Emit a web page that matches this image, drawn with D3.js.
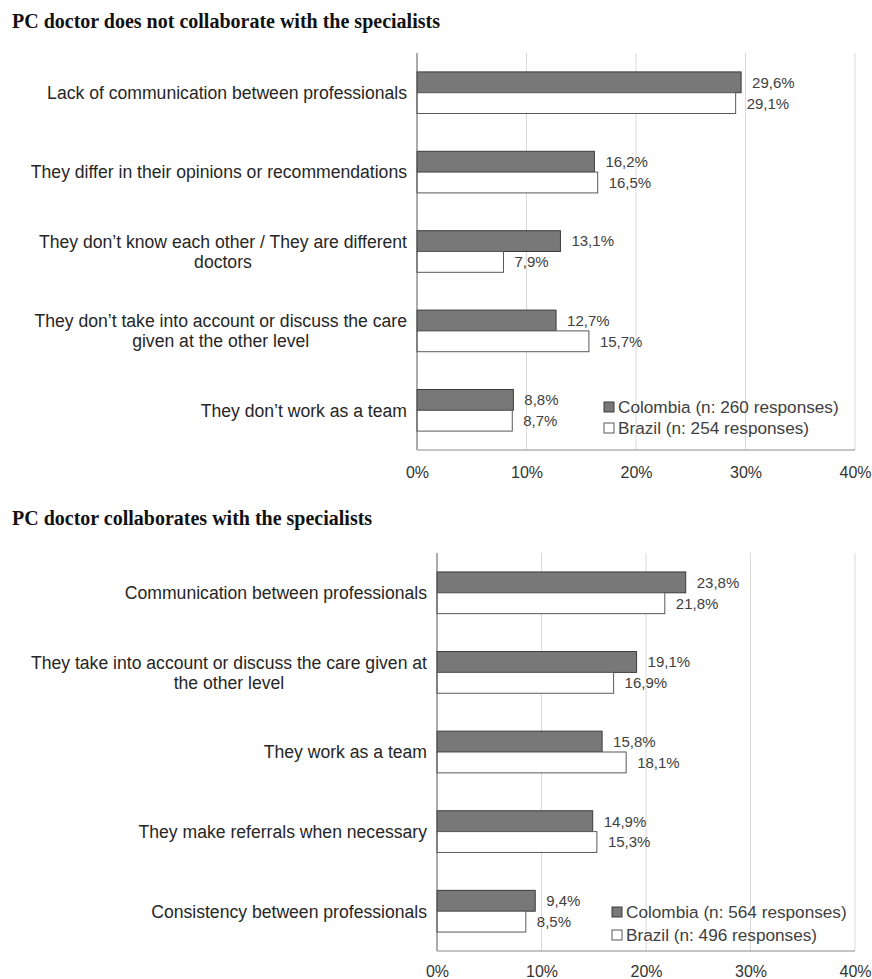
<!DOCTYPE html>
<html>
<head>
<meta charset="utf-8">
<script src="https://cdn.jsdelivr.net/npm/d3@7"></script>
<style>
  html, body { margin: 0; padding: 0; background: #fff; }
  svg { display: block; }
</style>
</head>
<body>
<svg id="chart" width="872" height="979"></svg>
<script>
// ---------- DATA ----------
const title1 = "PC doctor does not collaborate with the specialists";
const categories1 = [
  "Lack of communication between professionals",
  "They differ in their opinions or recommendations",
  "They don’t know each other / They are different\ndoctors",
  "They don’t take into account or discuss the care\ngiven at the other level",
  "They don’t work as a team"
];
const colombia1 = [29.6, 16.2, 13.1, 12.7, 8.8];
const brazil1   = [29.1, 16.5, 7.9, 15.7, 8.7];
const legend1   = ["Colombia (n: 260 responses)", "Brazil (n: 254 responses)"];

const title2 = "PC doctor collaborates with the specialists";
const categories2 = [
  "Communication between professionals",
  "They take into account or discuss the care given at\nthe other level",
  "They work as a team",
  "They make referrals when necessary",
  "Consistency between professionals"
];
const colombia2 = [23.8, 19.1, 15.8, 14.9, 9.4];
const brazil2   = [21.8, 16.9, 18.1, 15.3, 8.5];
const legend2   = ["Colombia (n: 564 responses)", "Brazil (n: 496 responses)"];

const xTicks = [0, 10, 20, 30, 40];
const fmt = v => String(v.toFixed(1)).replace(".", ",") + "%";

// ---------- DRAW ----------
const svg = d3.select("#chart");

function drawChart(cfg) {
  const g = svg.append("g");
  const x = d3.scaleLinear().domain([0, 40]).range([cfg.x0, cfg.x1]);
  const y = d3.scaleBand().domain(cfg.categories).range([cfg.top, cfg.bottom]);
  const barH = y.bandwidth() * 0.262;

  // title
  g.append("text")
    .attr("x", 12).attr("y", cfg.titleY)
    .attr("font-family", "'Liberation Serif', 'Times New Roman', serif")
    .attr("font-weight", "bold").attr("font-size", 20)
    .attr("fill", "#111")
    .text(cfg.title);

  // gridlines
  g.selectAll(".grid").data(xTicks.filter(t => t > 0)).enter().append("line")
    .attr("x1", d => x(d)).attr("x2", d => x(d))
    .attr("y1", cfg.top).attr("y2", cfg.bottom)
    .attr("stroke", "#d9d9d9").attr("stroke-width", 1);

  // bars
  const rows = cfg.categories.map((c, i) => ({ c, col: cfg.colombia[i], bra: cfg.brazil[i] }));
  const center = d => y(d.c) + y.bandwidth() / 2;

  g.selectAll(".barC").data(rows).enter().append("rect")
    .attr("x", x(0)).attr("y", d => center(d) - barH)
    .attr("width", d => x(d.col) - x(0)).attr("height", barH)
    .attr("fill", "#787878").attr("stroke", "#3c3c3c").attr("stroke-width", 1);
  g.selectAll(".barB").data(rows).enter().append("rect")
    .attr("x", x(0)).attr("y", d => center(d))
    .attr("width", d => x(d.bra) - x(0)).attr("height", barH)
    .attr("fill", "#ffffff").attr("stroke", "#595959").attr("stroke-width", 1);

  // value labels
  const vfont = "'Liberation Sans', Arial, sans-serif";
  g.selectAll(".valC").data(rows).enter().append("text")
    .attr("x", d => x(d.col) + 11).attr("y", d => center(d) - barH / 2)
    .attr("dy", "0.36em")
    .attr("font-family", vfont).attr("font-size", 15).attr("fill", "#404040")
    .text(d => fmt(d.col));
  g.selectAll(".valB").data(rows).enter().append("text")
    .attr("x", d => x(d.bra) + 11).attr("y", d => center(d) + barH / 2)
    .attr("dy", "0.36em")
    .attr("font-family", vfont).attr("font-size", 15).attr("fill", "#404040")
    .text(d => fmt(d.bra));

  // axis lines
  g.append("line").attr("x1", x(0)).attr("x2", x(0))
    .attr("y1", cfg.top).attr("y2", cfg.bottom)
    .attr("stroke", "#595959").attr("stroke-width", 1);
  g.append("line").attr("x1", x(0)).attr("x2", x(40))
    .attr("y1", cfg.bottom).attr("y2", cfg.bottom)
    .attr("stroke", "#8c8c8c").attr("stroke-width", 1);

  // x axis tick labels via d3 axis
  const ax = g.append("g").attr("transform", `translate(0,${cfg.bottom})`)
    .call(d3.axisBottom(x).tickValues(xTicks).tickFormat(d => d + "%").tickSize(0).tickPadding(cfg.tickPad));
  ax.select(".domain").remove();
  ax.selectAll("text")
    .attr("font-family", vfont).attr("font-size", 16).attr("fill", "#333");

  // category labels
  const cat = g.selectAll(".cat").data(rows).enter().append("text")
    .attr("font-family", vfont).attr("font-size", 17.6).attr("fill", "#262626")
    .attr("text-anchor", "middle");
  cat.each(function(d) {
    const el = d3.select(this);
    const lines = d.c.split("\n");
    const lh = 20;
    const tsp = lines.map((ln, i) => el.append("tspan").text(ln)
      .attr("y", center(d) + (i - (lines.length - 1) / 2) * lh).attr("dy", "0.36em"));
    let w = 0;
    tsp.forEach(t => { w = Math.max(w, t.node().getComputedTextLength()); });
    const cx = cfg.labelRight - w / 2;
    tsp.forEach(t => t.attr("x", cx));
  });

  // legend
  const lg = g.append("g");
  cfg.legend.forEach((txt, i) => {
    const yy = cfg.legendY + i * cfg.legendGap;
    lg.append("rect")
      .attr("x", cfg.legendX).attr("y", yy - 10)
      .attr("width", 10).attr("height", 10)
      .attr("fill", i === 0 ? "#787878" : "#fff")
      .attr("stroke", i === 0 ? "#3c3c3c" : "#595959").attr("stroke-width", 1);
    lg.append("text")
      .attr("x", cfg.legendX + 14).attr("y", yy + 1)
      .attr("font-family", vfont).attr("font-size", 17.2).attr("fill", "#404040")
      .text(txt);
  });
}

drawChart({
  title: title1, titleY: 28,
  categories: categories1, colombia: colombia1, brazil: brazil1, legend: legend1,
  x0: 417, x1: 855, top: 53, bottom: 450, labelRight: 407, tickPad: 17,
  legendX: 604, legendY: 412, legendGap: 21
});
drawChart({
  title: title2, titleY: 525,
  categories: categories2, colombia: colombia2, brazil: brazil2, legend: legend2,
  x0: 437, x1: 855, top: 553, bottom: 951, labelRight: 427, tickPad: 15,
  legendX: 612, legendY: 917, legendGap: 23
});
</script>
</body>
</html>
